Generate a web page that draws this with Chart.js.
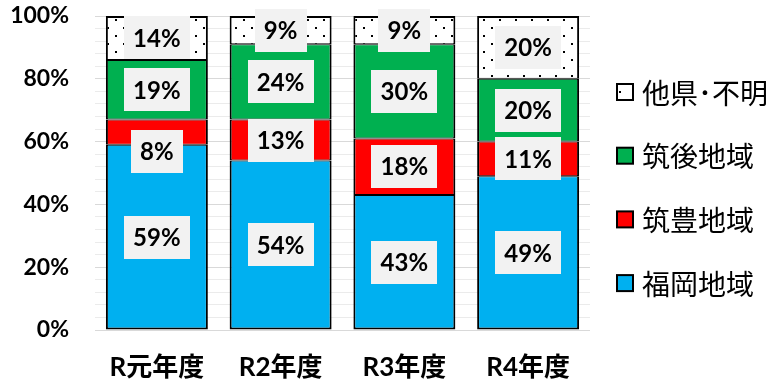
<!DOCTYPE html>
<html>
<head>
<meta charset="utf-8">
<script src="https://cdn.jsdelivr.net/npm/chart.js@4"></script>
<style>
  html, body { margin: 0; padding: 0; background: #ffffff; }
  #wrap { width: 778px; height: 382px; }
</style>
</head>
<body>
<div id="wrap"><canvas id="c" width="778" height="382"></canvas></div>
<script>
// Share of each area per fiscal year (%)
const years = ['R元年度', 'R2年度', 'R3年度', 'R4年度'];
const fukuoka = [59, 54, 43, 49];   // 福岡地域
const chikuho = [8, 13, 18, 11];    // 筑豊地域
const chikugo = [19, 24, 30, 20];   // 筑後地域
const other   = [14, 9, 9, 20];     // 他県・不明
const seriesNames = ['福岡地域', '筑豊地域', '筑後地域', '他県･不明'];
const yLabelStep = 20;   // labelled ticks every 20%
const yGridStep = 4;     // light grid every 4%

const NUM_FONT = 'Lato, "Noto Sans CJK JP", sans-serif';
const JP_FONT = '"Noto Sans CJK JP", sans-serif';

// white fill with a staggered dot grid
function dotPattern() {
  const t = document.createElement('canvas');
  t.width = 16; t.height = 16;
  const g = t.getContext('2d');
  g.fillStyle = '#ffffff';
  g.fillRect(0, 0, 16, 16);
  g.fillStyle = '#000000';
  g.fillRect(3, 3, 2, 2);
  g.fillRect(11, 11, 2, 2);
  return g.createPattern(t, 'repeat');
}

const colors = ['#00B0F0', '#FF0000', '#00B050', dotPattern()];
const values = [fukuoka, chikuho, chikugo, other];

const datasets = values.map((arr, i) => ({
  label: seriesNames[i],
  data: arr,
  backgroundColor: colors[i],
  borderColor: '#000000',
  borderWidth: { left: 2, right: 2, top: i === values.length - 1 ? 2 : 1, bottom: i === 0 ? 2 : 1 },
  borderSkipped: false,
  barPercentage: 0.824,
  categoryPercentage: 1.0
}));

// value boxes centred on each segment
const segLabels = {
  id: 'segLabels',
  afterDatasetsDraw(chart, args, opts) {
    const ctx = chart.ctx;
    ctx.save();
    ctx.font = opts.font;
    ctx.textAlign = 'center';
    ctx.textBaseline = 'middle';
    chart.data.datasets.forEach((ds, di) => {
      const meta = chart.getDatasetMeta(di);
      meta.data.forEach((bar, i) => {
        const txt = ds.data[i] + '%';
        const p = bar.getProps(['x', 'y', 'base'], true);
        const cy = (p.y + p.base) / 2 + (opts.nudge[di + ':' + i] || 0);
        const w = Math.round(ctx.measureText(txt).width + 2 * opts.padX);
        const h = opts.boxH;
        ctx.fillStyle = opts.boxColor;
        ctx.fillRect(Math.round(p.x - w / 2), Math.round(cy - h / 2), w, h);
        ctx.fillStyle = '#000000';
        ctx.fillText(txt, p.x, cy + 1);
      });
    });
    ctx.restore();
  }
};

// legend on the right, last series on top
const sideLegend = {
  id: 'sideLegend',
  afterDraw(chart, args, opts) {
    const ctx = chart.ctx;
    ctx.save();
    ctx.font = opts.font;
    ctx.textAlign = 'left';
    ctx.textBaseline = 'middle';
    const n = chart.data.datasets.length;
    for (let k = 0; k < n; k++) {
      const ds = chart.data.datasets[n - 1 - k];
      const cy = opts.top + k * opts.gap;
      const b = opts.box;
      ctx.fillStyle = ds.backgroundColor;
      ctx.fillRect(opts.x, cy - b / 2, b, b);
      ctx.lineWidth = 2;
      ctx.strokeStyle = '#000000';
      ctx.strokeRect(opts.x, cy - b / 2, b, b);
      ctx.fillStyle = '#000000';
      ctx.fillText(ds.label, opts.x + b + 9, cy + 1);
    }
    ctx.restore();
  }
};

new Chart(document.getElementById('c'), {
  type: 'bar',
  data: { labels: years, datasets },
  plugins: [segLabels, sideLegend],
  options: {
    responsive: false,
    devicePixelRatio: 1,
    animation: false,
    layout: { padding: { top: 16, right: 188, left: 0, bottom: 0 } },
    plugins: {
      legend: { display: false },
      tooltip: { enabled: false },
      segLabels: {
        font: 'bold 24px ' + NUM_FONT,
        padX: 9,
        boxH: 43,
        boxColor: '#F2F2F2',
        nudge: { '1:0': 19 }
      },
      sideLegend: {
        font: '28px ' + JP_FONT,
        x: 617,
        top: 92,
        gap: 63.7,
        box: 16
      }
    },
    scales: {
      x: {
        stacked: true,
        grid: { display: false, drawTicks: false },
        border: { display: false },
        ticks: {
          color: '#000000',
          padding: 22,
          font: { family: NUM_FONT, size: 26, weight: 'bold' }
        },
        afterFit(scale) {
          scale.height = 52;
          scale.paddingLeft = 0;
          scale.paddingRight = 0;
        }
      },
      y: {
        stacked: true,
        min: 0,
        max: 100,
        border: { display: false },
        grid: {
          drawTicks: false,
          lineWidth: 1,
          color: (c) => (c.tick && c.tick.value % yLabelStep === 0) ? '#D9D9D9' : '#EBEBEB'
        },
        ticks: {
          stepSize: yGridStep,
          autoSkip: false,
          padding: 26,
          color: '#000000',
          font: { family: NUM_FONT, size: 23, weight: 'bold' },
          callback: (v) => (v % yLabelStep === 0 ? v + '%' : '')
        },
        afterFit(scale) {
          scale.width = 95;
          scale.paddingTop = 0;
          scale.paddingBottom = 0;
        }
      }
    }
  }
});
</script>
</body>
</html>
